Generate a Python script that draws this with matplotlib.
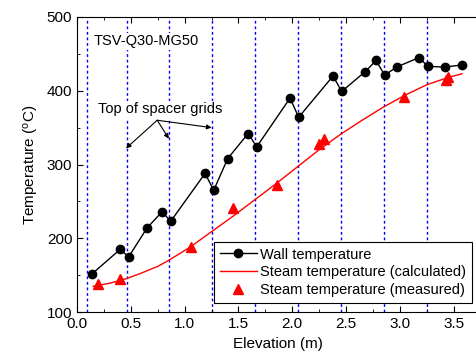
import matplotlib.pyplot as plt
from matplotlib.ticker import MultipleLocator

plt.rcParams['font.family'] = ['Liberation Sans', 'DejaVu Sans']
plt.rcParams['mathtext.fontset'] = 'custom'
plt.rcParams['mathtext.rm'] = 'Liberation Sans'

# wall temperature (thermocouples)
wall_x = [0.14, 0.40, 0.48, 0.65, 0.79, 0.87, 1.19, 1.27, 1.40, 1.59, 1.67,
          1.98, 2.06, 2.38, 2.46, 2.68, 2.78, 2.86, 2.97, 3.18, 3.26, 3.42, 3.58]
wall_t = [152, 185, 175, 214, 236, 223, 288, 265, 308, 342, 324,
          390, 364, 420, 399, 426, 441, 421, 432, 445, 433, 432, 435]

# steam temperature, calculated
calc_x = [0.15, 0.30, 0.45, 0.60, 0.75, 0.85, 1.05, 1.25, 1.45, 1.65, 1.85, 2.05,
          2.25, 2.45, 2.65, 2.85, 3.05, 3.25, 3.45, 3.58]
calc_t = [135, 139, 145, 153, 162, 170, 188, 209, 230, 252, 274, 297,
          320, 341, 360, 378, 394, 408, 418, 423]

# steam temperature, measured
meas_x = [0.19, 0.40, 1.06, 1.45, 1.86, 2.25, 2.30, 3.04, 3.43, 3.45]
meas_t = [138, 145, 188, 241, 272, 328, 334, 391, 414, 418]

# top of spacer grids
grid_x = [0.09, 0.46, 0.85, 1.25, 1.65, 2.05, 2.45, 2.85, 3.25]

fig = plt.figure(figsize=(4.76, 3.6), dpi=100)
ax = fig.add_axes([0.162, 0.133, 0.845, 0.82])

for gx in grid_x:
    ax.axvline(gx, color='#0000ff', linestyle=(0, (2, 2)), linewidth=1, zorder=1)

ax.plot(wall_x, wall_t, 'k-o', markersize=6, linewidth=1, label='Wall temperature', zorder=3)
ax.plot(calc_x, calc_t, '-', color='red', linewidth=1, label='Steam temperature (calculated)', zorder=3)
ax.plot(meas_x, meas_t, '^', color='red', markersize=7, linestyle='none',
        label='Steam temperature (measured)', zorder=3)

ax.set_xlim(0, 3.74)
ax.set_ylim(100, 500)
ax.xaxis.set_major_locator(MultipleLocator(0.5))
ax.xaxis.set_minor_locator(MultipleLocator(0.25))
ax.yaxis.set_major_locator(MultipleLocator(100))
ax.yaxis.set_minor_locator(MultipleLocator(50))
ax.tick_params(which='both', direction='in', top=True, labelsize=11)
ax.tick_params(which='major', length=4)
ax.tick_params(which='minor', length=2.5)
ax.set_xlabel('Elevation (m)', fontsize=11)
ax.set_ylabel('Temperature ($\\mathregular{^{o}}$C)', fontsize=11)

ax.text(0.64, 467, 'TSV-Q30-MG50', fontsize=10.5, ha='center', va='center',
        bbox=dict(facecolor='white', edgecolor='none', pad=1), zorder=4)
ax.text(0.77, 375, 'Top of spacer grids', fontsize=10.5, ha='center', va='center',
        bbox=dict(facecolor='white', edgecolor='none', pad=1), zorder=4)
for tx, ty in [(0.455, 322), (0.853, 335), (1.25, 350)]:
    ax.annotate('', xy=(tx, ty), xytext=(0.745, 360),
                arrowprops=dict(arrowstyle='-|>', color='black', lw=0.8,
                                mutation_scale=7, shrinkA=0, shrinkB=0), zorder=4)

leg = ax.legend(loc='lower right', bbox_to_anchor=(0.982, 0.032), fontsize=10.5,
                fancybox=False, edgecolor='black', framealpha=1,
                handlelength=2.5, borderpad=0.4, labelspacing=0.25, handletextpad=0.25,
                borderaxespad=0)
leg.get_frame().set_linewidth(0.8)
leg.set_zorder(5)

fig.savefig('out.png', dpi=100)
